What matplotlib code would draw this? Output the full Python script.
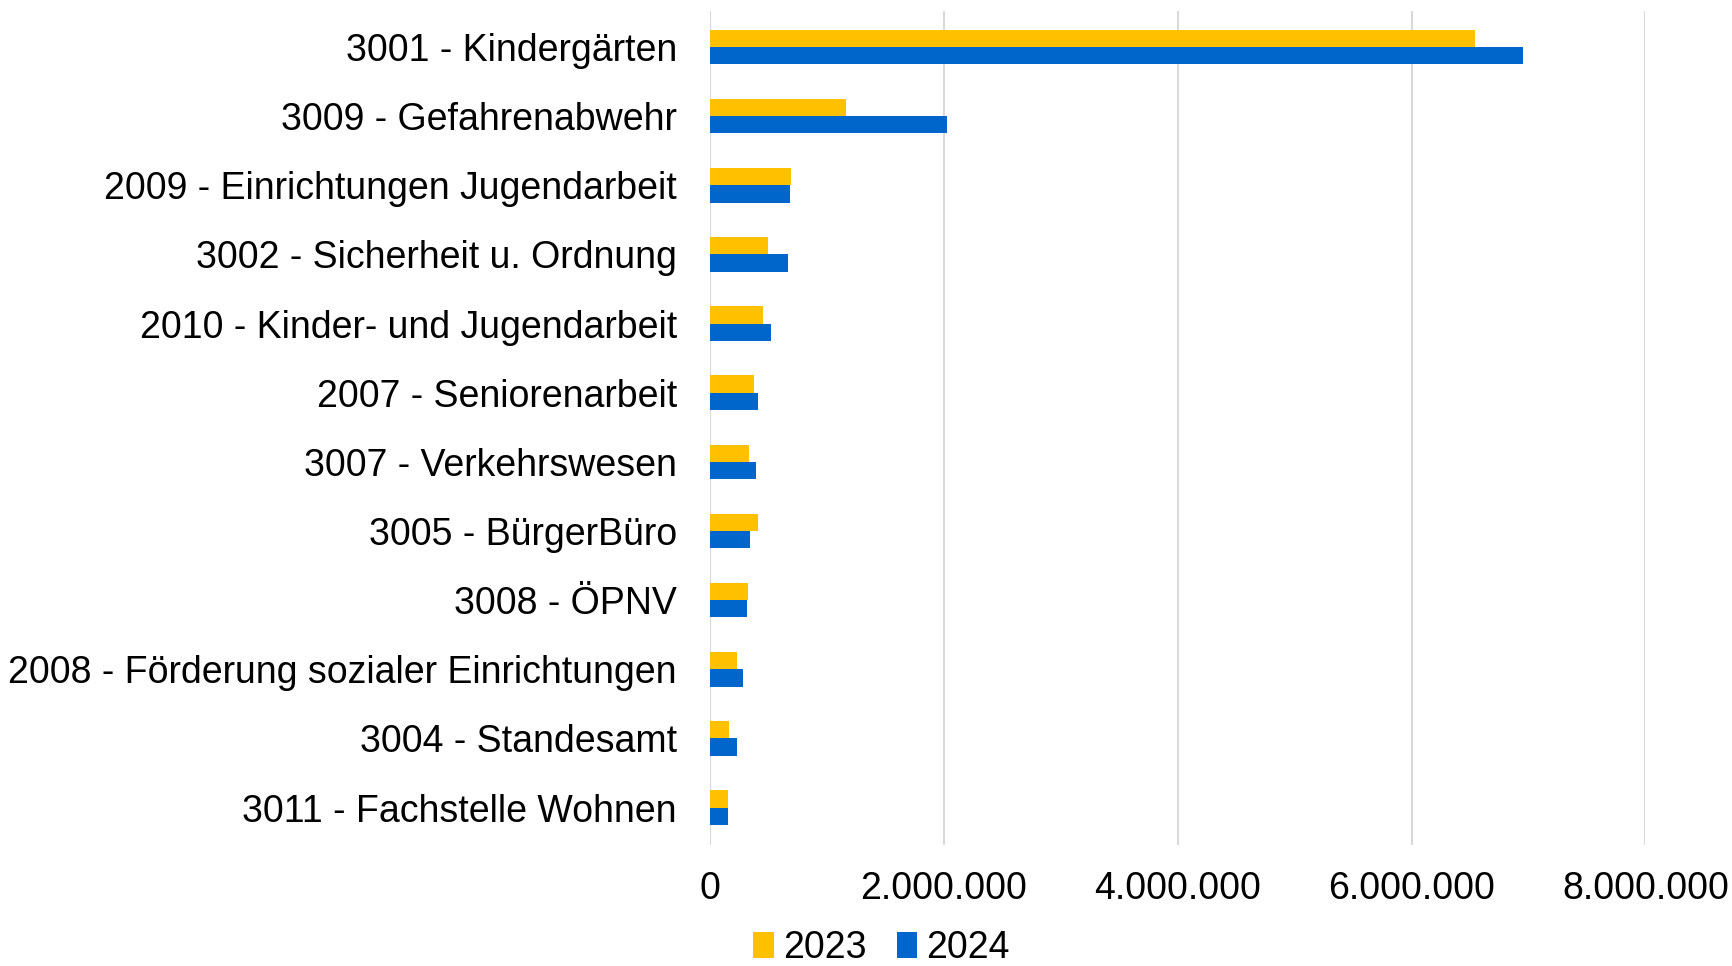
import matplotlib
matplotlib.use("Agg")
import matplotlib.pyplot as plt
import numpy as np
from matplotlib.ticker import FuncFormatter

plt.rcParams['font.family'] = ['Liberation Sans', 'DejaVu Sans']

categories = [
    "3001 - Kindergärten",
    "3009 - Gefahrenabwehr",
    "2009 - Einrichtungen Jugendarbeit",
    "3002 - Sicherheit u. Ordnung",
    "2010 - Kinder- und Jugendarbeit",
    "2007 - Seniorenarbeit",
    "3007 - Verkehrswesen",
    "3005 - BürgerBüro",
    "3008 - ÖPNV",
    "2008 - Förderung sozialer Einrichtungen",
    "3004 - Standesamt",
    "3011 - Fachstelle Wohnen",
]
values_2023 = [6540000, 1166000, 688000, 497000, 452000, 374000, 335000, 409000, 320000, 232000, 163000, 155000]
values_2024 = [6950000, 2030000, 679000, 664000, 521000, 408000, 392000, 338000, 318000, 280000, 229000, 149000]
series_labels = ["2023", "2024"]
xticks = [0, 2000000, 4000000, 6000000, 8000000]

c2023 = "#FFC000"
c2024 = "#0066CC"

fig = plt.figure(figsize=(17.32, 9.66), dpi=100)
ax = fig.add_axes([0.410, 0.1253, 0.540, 0.8633])

y = np.arange(len(categories))
h = 0.25
ax.barh(y - h / 2, values_2023, height=h, color=c2023, label=series_labels[0], zorder=3)
ax.barh(y + h / 2, values_2024, height=h, color=c2024, label=series_labels[1], zorder=3)

ax.set_ylim(len(categories) - 0.46, -0.52)
ax.set_xlim(0, 8000000)
ax.set_yticks(y)
ax.set_yticklabels(categories, fontsize=27)
ax.set_xticks(xticks)
ax.xaxis.set_major_formatter(FuncFormatter(lambda v, p: f"{int(v):,}".replace(",", ".")))
ax.tick_params(axis='x', labelsize=27, length=0, pad=19)
ax.tick_params(axis='y', length=0, pad=24)
ax.grid(axis='x', color="#D9D9D9", linewidth=1.5, zorder=0)
for s in ax.spines.values():
    s.set_visible(False)

leg = fig.legend(loc='lower center', bbox_to_anchor=(0.509, -0.012), ncol=2, frameon=False,
                 fontsize=27, handlelength=0.55, handleheight=0.7, handletextpad=0.25,
                 columnspacing=0.8, borderaxespad=0.0, borderpad=0.3)

fig.savefig("out.png", dpi=100)
